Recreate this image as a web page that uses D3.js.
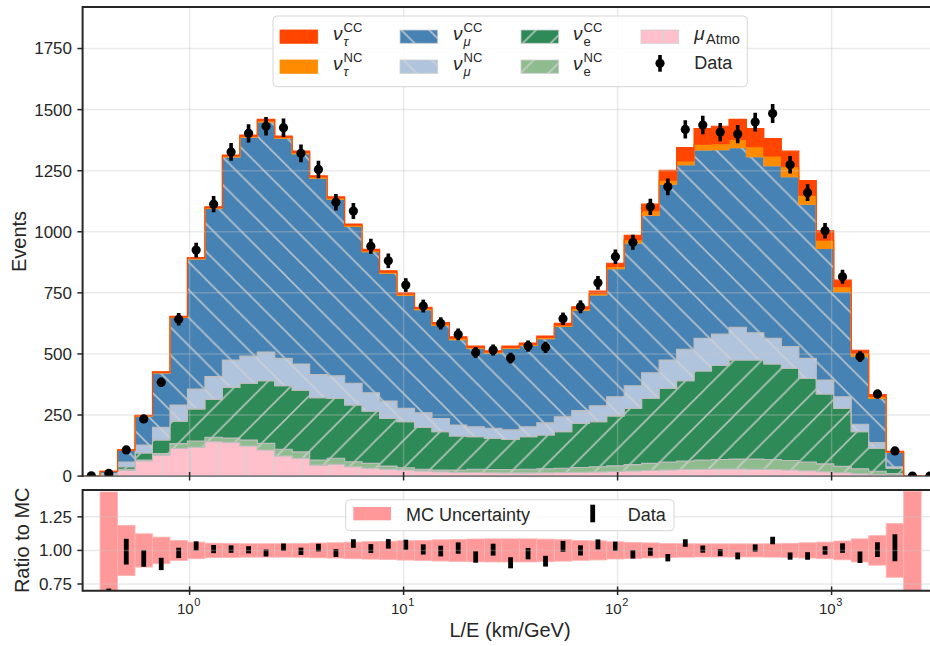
<!DOCTYPE html>
<html><head><meta charset="utf-8">
<script src="https://cdn.jsdelivr.net/npm/d3@7"></script>
<style>
body{margin:0;background:#fff;overflow:hidden}
text{font-family:"Liberation Sans",Arial,sans-serif;fill:#262626}
</style>
</head><body>
<svg id="chart" width="930" height="646"></svg>
<script>
// ---------- data ----------
const logMin = -0.5, logMax = 3.5, nBins = 49;   // log10(L/E) binning
const muAtmo = [0,3,24,62,86,113,118,141,138,123,107,82,73,45,48,38,32,28,25,21,18,15,15,14,13,13,14,15,16,17,19,21,23,25,27,28,29,29,28,27,25,22,18,14,10,6,3,0.3,0];
const nueNC  = [0,1,4,4,6,20,25,18,18,25,27,28,26,21,25,21,20,13,9,7,7,10,13,13,14,15,16,17,19,21,23,26,29,32,35,38,39,41,42,41,39,36,32,26,20,14,7,0.2,0];
const nueCC  = [0,3,10,29,56,92,132,155,207,232,256,260,253,255,245,232,214,195,189,172,157,139,133,128,123,133,138,150,181,185,204,230,266,302,328,364,385,405,405,391,377,342,286,237,152,94,22,0.5,0];
const numuNC = [0,3,20,32,52,66,81,93,112,111,118,112,107,95,93,89,75,71,54,59,54,45,41,41,39,41,50,61,52,65,79,93,105,116,129,134,128,134,112,105,89,82,57,48,30,23,6,0.3,0];
const numuCC = [0,9,47,118,222,358,533,688,831,896,942,901,861,803,722,642,577,523,463,422,381,349,321,308,334,333,344,370,411,453,524,584,645,720,756,771,755,735,720,706,695,631,539,430,279,181,59,0.5,0];
const nutauNC= [0,0.5,1.5,2,2.5,2.5,3,3.5,4,4.5,5,4.5,5,5,5,5,5,5,5,5,5.5,6,4,4,4,4,5,5,6,7,9,14,18,16,15,23,25,34,41,40,41,37,34,20,12,8,2,0.1,0];
const nutauCC= [0,0.5,1.5,2,2.5,2.5,3,3.5,4,4.5,5,4.5,5,5,5,5,5,5,5,5,5.5,6,5,5,5,6,6,7,8,9,13,18,27,41,55,65,71,82,75,72,64,60,38,27,12,8,2,0.1,0];
const dataCounts = [1,11,107,234,384,642,925,1113,1327,1403,1432,1426,1321,1255,1121,1085,941,881,782,696,625,580,506,516,483,532,527,644,693,791,898,957,1102,1184,1419,1437,1408,1400,1449,1484,1274,1160,1004,816,489,336,103,0,0];
const mcRelUnc = [null,0.435,0.187,0.124,0.099,0.075,0.062,0.054,0.052,0.05,0.05,0.05,0.051,0.055,0.057,0.062,0.065,0.068,0.072,0.075,0.079,0.082,0.085,0.086,0.086,0.086,0.084,0.08,0.074,0.071,0.064,0.06,0.056,0.052,0.05,0.049,0.049,0.049,0.049,0.05,0.053,0.057,0.062,0.07,0.086,0.11,0.2,0.44,null];
const yTicksTop = [0,250,500,750,1000,1250,1500,1750];
const yTicksRatio = [0.75,1.00,1.25];
const xDecades = [0,1,2,3];

// ---------- setup ----------
const svg = d3.select("#chart");
const W = 930;
const x = d3.scaleLog().domain([10**logMin, 10**logMax]).range([82.6, 938.6]);
const y = d3.scaleLinear().domain([0,1920]).range([476.1, 7]);
const yr = d3.scaleLinear().domain([0.7,1.45]).range([590.7, 490]);
const edges = d3.range(nBins+1).map(i => 10**(logMin + (logMax-logMin)*i/nBins));
const centers = d3.range(nBins).map(i => Math.sqrt(edges[i]*edges[i+1]));

const keys = ["atmo","eNC","eCC","muNC","muCC","tauNC","tauCC"];
const series = {atmo:muAtmo, eNC:nueNC, eCC:nueCC, muNC:numuNC, muCC:numuCC, tauNC:nutauNC, tauCC:nutauCC};
const style = {
  atmo:{fill:"#FFC0CB", edge:"#c9c9c9", hatch:"vert"},
  eNC:{fill:"#8FBC8F", edge:"#bdbdbd", hatch:"fwd"},
  eCC:{fill:"#2E8B57", edge:"#bdbdbd", hatch:"fwd"},
  muNC:{fill:"#B0C4DE", edge:"#bdbdbd", hatch:"back"},
  muCC:{fill:"#4682B4", edge:"#bdbdbd", hatch:"back"},
  tauNC:{fill:"#FF8C00", edge:"#FF8C00", hatch:null},
  tauCC:{fill:"#FF4500", edge:"#FF4500", hatch:null}
};
const rows = d3.range(nBins).map(i => { const r={}; keys.forEach(k=>r[k]=series[k][i]); return r; });
const stacked = d3.stack().keys(keys)(rows);
const mcTotal = rows.map(r => d3.sum(keys, k => r[k]));

// ---------- defs ----------
const defs = svg.append("defs");
const s = 27.8;
const hatchCol = "#d2d2d2";
function pattern(id, d, ox){
  const p = defs.append("pattern").attr("id",id).attr("patternUnits","userSpaceOnUse")
    .attr("width",s).attr("height",s).attr("x",ox||0).attr("y",0);
  p.append("path").attr("d",d).attr("stroke",hatchCol).attr("stroke-width",1.6).attr("stroke-opacity",0.8).attr("fill","none");
}
pattern("vert", `M${s/2},0 L${s/2},${s}`, 23.8 - s/2);
pattern("fwd", `M0,${s} L${s},0 M${-s/4},${s/4} L${s/4},${-s/4} M${3*s/4},${5*s/4} L${5*s/4},${3*s/4}`, 10);
pattern("back", `M0,0 L${s},${s} M${-s/4},${3*s/4} L${s/4},${5*s/4} M${3*s/4},${-s/4} L${5*s/4},${s/4}`, 10);
defs.append("clipPath").attr("id","clipTop").append("rect").attr("x",82.6).attr("y",7).attr("width",860).attr("height",469.1);
defs.append("clipPath").attr("id","clipBot").append("rect").attr("x",82.6).attr("y",490).attr("width",860).attr("height",100.7);

// ---------- top panel ----------
const topG = svg.append("g");
const area = d3.area().x(p=>x(p.x)).y0(p=>y(p.lo)).y1(p=>y(p.hi));
const plotG = topG.append("g").attr("clip-path","url(#clipTop)");
stacked.forEach(layer => {
  const k = layer.key, st = style[k];
  const pts = layer.flatMap((d,i)=>[{x:edges[i],lo:d[0],hi:d[1]},{x:edges[i+1],lo:d[0],hi:d[1]}]);
  const dstr = area(pts);
  plotG.append("path").attr("d",dstr).attr("fill",st.fill).attr("stroke","none");
  if (st.hatch) plotG.append("path").attr("d",dstr).attr("fill",`url(#${st.hatch})`).attr("stroke","none");
  plotG.append("path").attr("d",dstr).attr("fill","none").attr("stroke",st.edge).attr("stroke-width",1.1);
});

// grid (drawn translucent above bars)
const gridCol = "#c4c4c4", gridOp = 0.35;
yTicksTop.forEach(t => topG.append("line").attr("x1",82.6).attr("x2",W).attr("y1",y(t)).attr("y2",y(t))
  .attr("stroke",gridCol).attr("stroke-opacity",gridOp).attr("stroke-width",1.5));
xDecades.forEach(d => topG.append("line").attr("x1",x(10**d)).attr("x2",x(10**d)).attr("y1",7).attr("y2",476.1)
  .attr("stroke",gridCol).attr("stroke-opacity",gridOp).attr("stroke-width",1.5));

// data points
const dG = topG.append("g").attr("clip-path","url(#clipTop)");
dataCounts.forEach((n,i) => {
  const e = Math.sqrt(n);
  dG.append("line").attr("x1",x(centers[i])).attr("x2",x(centers[i])).attr("y1",y(n+e)).attr("y2",y(Math.max(0,n-e)))
    .attr("stroke","#000").attr("stroke-width",3.6);
  dG.append("circle").attr("cx",x(centers[i])).attr("cy",y(n)).attr("r",4.6).attr("fill","#000");
});

// spines & ticks
topG.append("line").attr("x1",82.6).attr("x2",W).attr("y1",476.1).attr("y2",476.1).attr("stroke","#555").attr("stroke-width",1.2);
topG.append("line").attr("x1",82.6).attr("x2",W).attr("y1",7).attr("y2",7).attr("stroke","#262626").attr("stroke-width",2);
topG.append("line").attr("x1",82.6).attr("x2",82.6).attr("y1",6).attr("y2",477).attr("stroke","#262626").attr("stroke-width",2);
yTicksTop.forEach(t => {
  topG.append("line").attr("x1",77.4).attr("x2",82.6).attr("y1",y(t)).attr("y2",y(t)).attr("stroke","#262626").attr("stroke-width",1.5);
  topG.append("text").attr("x",72).attr("y",y(t)).attr("dy","0.35em").attr("text-anchor","end")
    .attr("font-size",17).text(t);
});
xDecades.forEach(d => topG.append("line").attr("x1",x(10**d)).attr("x2",x(10**d)).attr("y1",472).attr("y2",480.5)
  .attr("stroke","#262626").attr("stroke-width",1.5));
topG.append("text").attr("transform","translate(19,241.5) rotate(-90)").attr("text-anchor","middle")
  .attr("dy","0.35em").attr("font-size",20).text("Events");

// ---------- legend (top) ----------
const lg = svg.append("g");
lg.append("rect").attr("x",273).attr("y",16).attr("width",474.3).attr("height",70.7).attr("rx",4)
  .attr("fill","#fff").attr("fill-opacity",0.8).attr("stroke","#d6d6d6").attr("stroke-width",1);
function patch(px,py,k){
  const st = style[k];
  lg.append("rect").attr("x",px).attr("y",py).attr("width",37.7).attr("height",13.3).attr("fill",st.fill);
  if (st.hatch) lg.append("rect").attr("x",px).attr("y",py).attr("width",37.7).attr("height",13.3).attr("fill",`url(#${st.hatch})`);
  lg.append("rect").attr("x",px).attr("y",py).attr("width",37.7).attr("height",13.3).attr("fill","none")
    .attr("stroke",st.hatch? "#cfcfcf" : st.fill).attr("stroke-width",0.8);
}
function nuLabel(tx,by,sup,sub,subItalic){
  lg.append("text").attr("x",tx).attr("y",by).attr("font-size",19).attr("font-style","italic").text("ν");
  lg.append("text").attr("x",tx+10.5).attr("y",by-8.5).attr("font-size",13).text(sup);
  const sb = lg.append("text").attr("x",tx+10.5).attr("y",by+5.5).attr("font-size",13).text(sub);
  if (subItalic) sb.attr("font-style","italic");
}
const r1 = 30, r2 = 60;
patch(280,r1,"tauCC"); nuLabel(333,40,"CC","τ",true);
patch(280,r2,"tauNC"); nuLabel(333,70,"NC","τ",true);
patch(400,r1,"muCC");  nuLabel(453,40,"CC","μ",true);
patch(400,r2,"muNC");  nuLabel(453,70,"NC","μ",true);
patch(521,r1,"eCC");   nuLabel(573,40,"CC","e",false);
patch(521,r2,"eNC");   nuLabel(573,70,"NC","e",false);
patch(641,r1,"atmo");
lg.append("text").attr("x",694.3).attr("y",40).attr("font-size",19).attr("font-style","italic").text("μ");
lg.append("text").attr("x",706).attr("y",44).attr("font-size",14.5).text("Atmo");
lg.append("line").attr("x1",660).attr("x2",660).attr("y1",55).attr("y2",71.7).attr("stroke","#000").attr("stroke-width",3.6);
lg.append("circle").attr("cx",660).attr("cy",63.3).attr("r",4.6).attr("fill","#000");
lg.append("text").attr("x",694.3).attr("y",69.3).attr("font-size",18).text("Data");

// ---------- ratio panel ----------
const botG = svg.append("g");
const bG = botG.append("g").attr("clip-path","url(#clipBot)");
mcRelUnc.forEach((u,i) => {
  if (u == null) return;
  bG.append("rect").attr("x",x(edges[i])).attr("width",x(edges[i+1])-x(edges[i]))
    .attr("y",yr(1+u)).attr("height",yr(1-u)-yr(1+u))
    .attr("fill","#FF9999").attr("stroke","#ffb4b4").attr("stroke-width",0.8);
});
yTicksRatio.forEach(t => botG.append("line").attr("x1",82.6).attr("x2",W).attr("y1",yr(t)).attr("y2",yr(t))
  .attr("stroke",gridCol).attr("stroke-opacity",gridOp).attr("stroke-width",1.5));
xDecades.forEach(d => botG.append("line").attr("x1",x(10**d)).attr("x2",x(10**d)).attr("y1",490).attr("y2",590.7)
  .attr("stroke",gridCol).attr("stroke-opacity",gridOp).attr("stroke-width",1.5));
dataCounts.forEach((n,i) => {
  if (mcTotal[i] <= 0 || n <= 0) return;
  const r = n/mcTotal[i], e = Math.sqrt(n)/mcTotal[i];
  bG.append("rect").attr("x",x(centers[i])-2.4).attr("width",4.8)
    .attr("y",yr(r+e)).attr("height",yr(r-e)-yr(r+e)).attr("fill","#000");
});
botG.append("line").attr("x1",82.6).attr("x2",W).attr("y1",490).attr("y2",490).attr("stroke","#262626").attr("stroke-width",2);
botG.append("line").attr("x1",82.6).attr("x2",W).attr("y1",590.7).attr("y2",590.7).attr("stroke","#262626").attr("stroke-width",2);
botG.append("line").attr("x1",82.6).attr("x2",82.6).attr("y1",489).attr("y2",591.7).attr("stroke","#262626").attr("stroke-width",2);
yTicksRatio.forEach(t => {
  botG.append("line").attr("x1",77.4).attr("x2",82.6).attr("y1",yr(t)).attr("y2",yr(t)).attr("stroke","#262626").attr("stroke-width",1.5);
  botG.append("text").attr("x",72).attr("y",yr(t)).attr("dy","0.35em").attr("text-anchor","end")
    .attr("font-size",17).text(d3.format(".2f")(t));
});
xDecades.forEach(d => {
  const xx = x(10**d);
  botG.append("line").attr("x1",xx).attr("x2",xx).attr("y1",586.5).attr("y2",595).attr("stroke","#262626").attr("stroke-width",1.5);
  const t = botG.append("text").attr("text-anchor","middle");
  t.append("tspan").attr("x",xx-1).attr("y",614).attr("font-size",15).text("10");
  t.append("tspan").attr("dx",0.5).attr("dy",-8).attr("font-size",11).text(d);
});
botG.append("text").attr("transform","translate(22,540.3) rotate(-90)").attr("text-anchor","middle")
  .attr("dy","0.35em").attr("font-size",20).text("Ratio to MC");
svg.append("text").attr("x",510).attr("y",637).attr("text-anchor","middle").attr("font-size",20).text("L/E (km/GeV)");

// ratio legend
const lg2 = svg.append("g");
lg2.append("rect").attr("x",345.7).attr("y",499.7).attr("width",328.3).attr("height",31).attr("rx",4)
  .attr("fill","#fff").attr("fill-opacity",0.8).attr("stroke","#d6d6d6").attr("stroke-width",1);
lg2.append("rect").attr("x",353.3).attr("y",507).attr("width",37.7).attr("height",13.3).attr("fill","#FF9999");
lg2.append("text").attr("x",406).attr("y",521).attr("font-size",18).text("MC Uncertainty");
lg2.append("rect").attr("x",590.3).attr("y",504.7).attr("width",4.8).attr("height",17.6).attr("fill","#000");
lg2.append("text").attr("x",627.7).attr("y",521).attr("font-size",18).text("Data");
</script>
</body></html>
